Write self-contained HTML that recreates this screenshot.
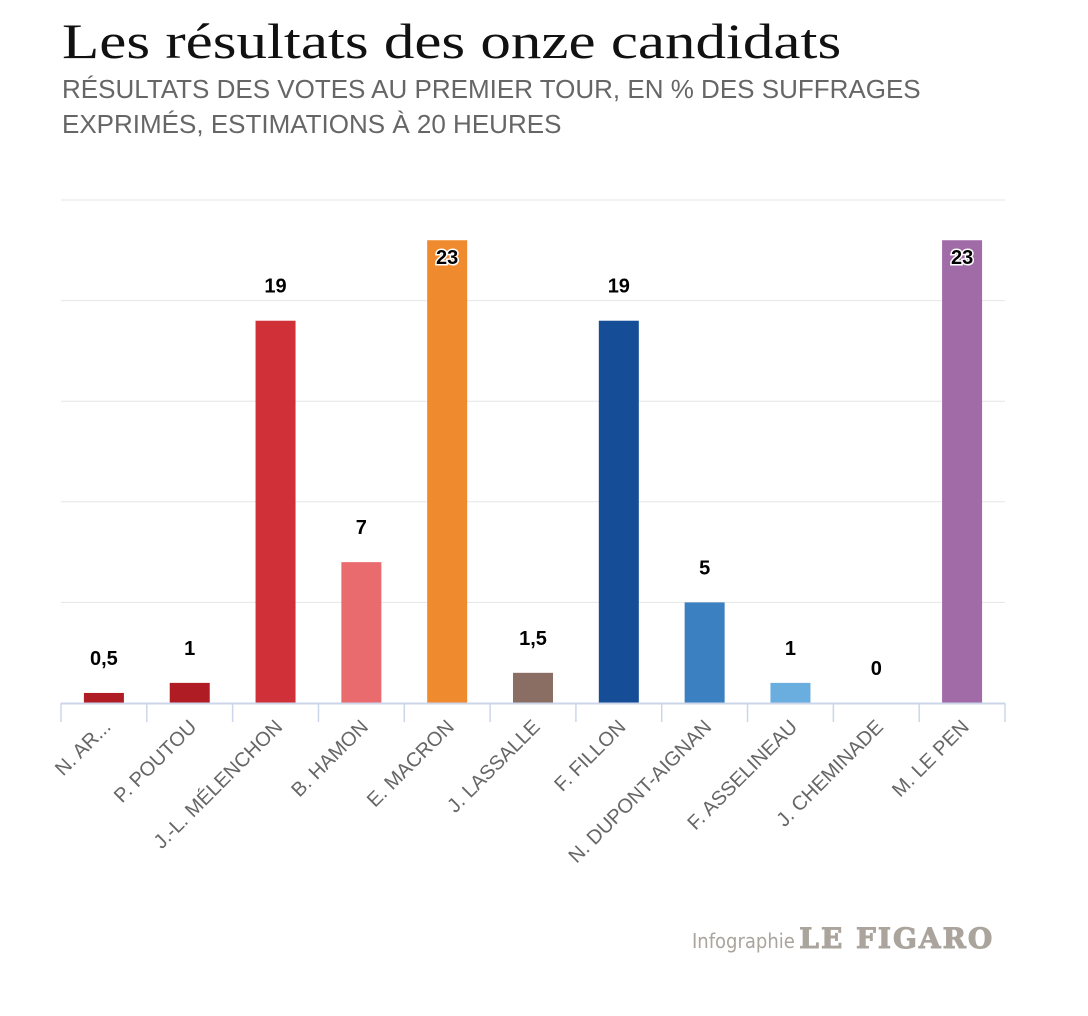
<!DOCTYPE html>
<html><head><meta charset="utf-8"><style>
body{margin:0;width:1088px;height:1016px;background:#fff;overflow:hidden;position:relative;font-family:"Liberation Sans",sans-serif}
#title{position:absolute;left:62px;top:12px;font-family:"Liberation Serif",serif;font-size:50px;color:#111;margin:0;font-weight:normal;transform:scaleX(1.22);transform-origin:0 0;white-space:nowrap}
#sub{position:absolute;left:62px;top:72px;font-size:26px;line-height:35px;color:#666;width:900px}
#credit{position:absolute;left:692px;top:922px;color:#aaa49d;white-space:nowrap}
</style></head><body>
<h1 id="title">Les résultats des onze candidats</h1>
<div id="sub">RÉSULTATS DES VOTES AU PREMIER TOUR, EN % DES SUFFRAGES EXPRIMÉS, ESTIMATIONS À 20 HEURES</div>
<svg id="chart" width="1088" height="1016" style="position:absolute;left:0;top:0"></svg>
<div id="credit"><span style="font-size:20px;font-family:'DejaVu Sans Condensed','Liberation Sans',sans-serif">Infographie</span> <span style="font-family:'DejaVu Serif',serif;font-weight:900;font-size:28px;letter-spacing:2px;-webkit-text-stroke:1px #aaa49d">LE FIGARO</span></div>
<script>
const categories=["N. AR...","P. POUTOU","J.-L. MÉLENCHON","B. HAMON","E. MACRON","J. LASSALLE","F. FILLON","N. DUPONT-AIGNAN","F. ASSELINEAU","J. CHEMINADE","M. LE PEN"];
const values=[0.5,1,19,7,23,1.5,19,5,1,0,23];
const valueLabels=["0,5","1","19","7","23","1,5","19","5","1","0","23"];
const colors=["#b01c24","#b01c24","#d03037","#ea6b6e","#ef8a2e","#8a6d63","#154d97","#3b80c1","#6aaee0","#999","#a16ba8"];
const gridTicks=[0,5,10,15,20,25];
const NS="http://www.w3.org/2000/svg",svg=document.getElementById('chart');
const x0=61,x1=1005,yBase=703,pxPerUnit=20.12;
const bw=(x1-x0)/categories.length;
const y=v=>yBase-v*pxPerUnit, xc=i=>x0+bw*(i+0.5);
function mk(t,a){const e=document.createElementNS(NS,t);for(const k in a)e.setAttribute(k,a[k]);svg.appendChild(e);return e;}
gridTicks.forEach(t=>{if(t===0)return;const l=mk('line',{x1:x0,x2:x1,y1:y(t),y2:y(t),stroke:'#e6e6e6','stroke-width':1});

});
categories.forEach((c,i)=>{
 const h=values[i]*pxPerUnit;
 const r=mk('rect',{x:xc(i)-20,y:y(values[i]),width:40,height:h,fill:colors[i]});
 
 
 const inside=y(values[i])<250;
 const ty=inside?y(values[i])+24:y(values[i])-28;
 const t=mk('text',{x:xc(i),y:ty,'text-anchor':'middle','font-size':20,'font-weight':'bold',fill:'#000',stroke:inside?'#fff':'none','stroke-width':inside?3:0,'paint-order':'stroke'});
 t.textContent=valueLabels[i];
 
 
 const lx=xc(i)+8,ly=728;
 const lb=mk('text',{x:lx,y:ly,'text-anchor':'end','font-size':20,fill:'#666',transform:`rotate(-45 ${lx} ${ly})`});
 lb.textContent=c;
 
 
});
const ax=mk('line',{x1:x0,x2:x1,y1:yBase+0.5,y2:yBase+0.5,stroke:'#ccd6eb','stroke-width':2});


for(let i=0;i<=categories.length;i++){const tk=mk('line',{x1:x0+bw*i,x2:x0+bw*i,y1:yBase,y2:yBase+19,stroke:'#ccd6eb','stroke-width':1.5});

}
</script>
</body></html>
